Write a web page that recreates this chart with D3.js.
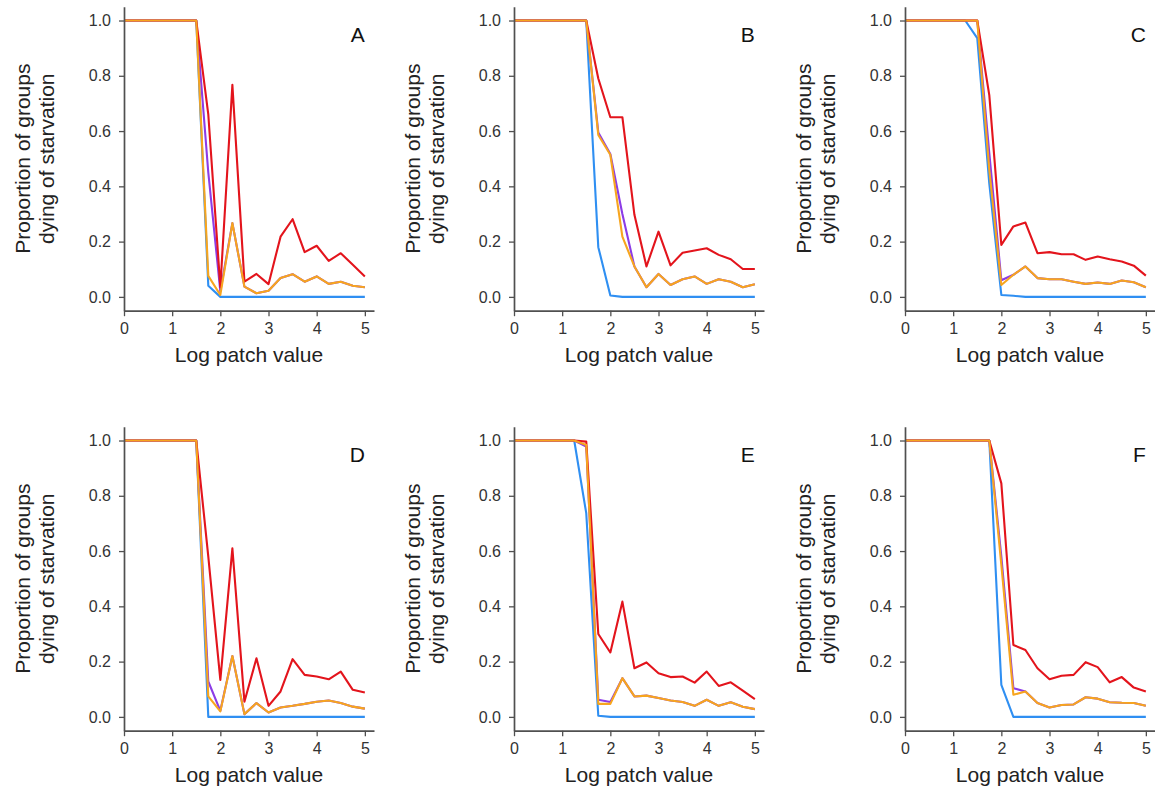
<!DOCTYPE html>
<html>
<head>
<meta charset="utf-8">
<script src="https://cdn.jsdelivr.net/npm/d3@7"></script>
<style>
  html, body { margin: 0; padding: 0; background: #ffffff; }
  svg { display: block; font-family: "Liberation Sans", Arial, sans-serif; }
</style>
</head>
<body>
<svg id="chart" width="1155" height="790"></svg>
<script>
// Log patch value at which each proportion was recorded
const xValues = [0, 0.25, 0.5, 0.75, 1, 1.25, 1.5, 1.75, 2, 2.25, 2.5, 2.75, 3, 3.25, 3.5, 3.75, 4, 4.25, 4.5, 4.75, 5];
const xTicks = [0, 1, 2, 3, 4, 5];
const yTicks = [0, 0.2, 0.4, 0.6, 0.8, 1.0];
const panelLabels = ["A", "B", "C", "D", "E", "F"];
const seriesColors = ["#2f8ff2", "#8c3ce6", "#e3141c", "#f7a51e"];

// Panel A
const aBlue   = [1, 1, 1, 1, 1, 1, 1, 0.04, 0, 0, 0, 0, 0, 0, 0, 0, 0, 0, 0, 0, 0];
const aPurple = [1, 1, 1, 1, 1, 1, 1, 0.45, 0.02, 0.267, 0.037, 0.013, 0.022, 0.068, 0.082, 0.055, 0.074, 0.047, 0.055, 0.04, 0.035];
const aRed    = [1, 1, 1, 1, 1, 1, 1, 0.66, 0.035, 0.767, 0.055, 0.083, 0.046, 0.218, 0.281, 0.162, 0.185, 0.13, 0.158, 0.116, 0.074];
const aOrange = [1, 1, 1, 1, 1, 1, 1, 0.076, 0.007, 0.267, 0.037, 0.013, 0.022, 0.068, 0.082, 0.055, 0.074, 0.047, 0.055, 0.04, 0.035];

// Panel B
const bBlue   = [1, 1, 1, 1, 1, 1, 1, 0.18, 0.005, 0, 0, 0, 0, 0, 0, 0, 0, 0, 0, 0, 0];
const bPurple = [1, 1, 1, 1, 1, 1, 1, 0.595, 0.517, 0.3, 0.11, 0.035, 0.083, 0.043, 0.064, 0.074, 0.047, 0.064, 0.055, 0.035, 0.046];
const bRed    = [1, 1, 1, 1, 1, 1, 1, 0.79, 0.65, 0.65, 0.297, 0.11, 0.236, 0.114, 0.16, 0.168, 0.176, 0.152, 0.136, 0.101, 0.101];
const bOrange = [1, 1, 1, 1, 1, 1, 1, 0.586, 0.514, 0.218, 0.11, 0.035, 0.083, 0.043, 0.064, 0.074, 0.047, 0.064, 0.055, 0.035, 0.046];

// Panel C
const cBlue   = [1, 1, 1, 1, 1, 1, 0.936, 0.41, 0.007, 0.004, 0, 0, 0, 0, 0, 0, 0, 0, 0, 0, 0];
const cPurple = [1, 1, 1, 1, 1, 1, 1, 0.52, 0.06, 0.08, 0.11, 0.068, 0.064, 0.064, 0.055, 0.047, 0.052, 0.047, 0.059, 0.053, 0.035];
const cRed    = [1, 1, 1, 1, 1, 1, 1, 0.73, 0.188, 0.255, 0.269, 0.158, 0.162, 0.154, 0.154, 0.134, 0.146, 0.136, 0.128, 0.113, 0.077];
const cOrange = [1, 1, 1, 1, 1, 1, 1, 0.46, 0.043, 0.08, 0.11, 0.068, 0.064, 0.064, 0.055, 0.047, 0.052, 0.047, 0.059, 0.053, 0.035];

// Panel D
const dBlue   = [1, 1, 1, 1, 1, 1, 1, 0, 0, 0, 0, 0, 0, 0, 0, 0, 0, 0, 0, 0, 0];
const dPurple = [1, 1, 1, 1, 1, 1, 1, 0.128, 0.022, 0.22, 0.01, 0.05, 0.016, 0.034, 0.04, 0.047, 0.055, 0.059, 0.05, 0.037, 0.03];
const dRed    = [1, 1, 1, 1, 1, 1, 1, 0.58, 0.134, 0.61, 0.055, 0.212, 0.04, 0.092, 0.209, 0.152, 0.146, 0.136, 0.164, 0.098, 0.088];
const dOrange = [1, 1, 1, 1, 1, 1, 1, 0.074, 0.02, 0.22, 0.01, 0.05, 0.016, 0.034, 0.04, 0.047, 0.055, 0.059, 0.05, 0.037, 0.03];

// Panel E
const eBlue   = [1, 1, 1, 1, 1, 1, 0.737, 0.004, 0, 0, 0, 0, 0, 0, 0, 0, 0, 0, 0, 0, 0];
const ePurple = [1, 1, 1, 1, 1, 1, 0.978, 0.062, 0.054, 0.14, 0.074, 0.077, 0.068, 0.059, 0.054, 0.04, 0.062, 0.04, 0.053, 0.037, 0.028];
const eRed    = [1, 1, 1, 1, 1, 1, 0.996, 0.3, 0.233, 0.417, 0.176, 0.197, 0.158, 0.144, 0.146, 0.124, 0.164, 0.112, 0.125, 0.095, 0.064];
const eOrange = [1, 1, 1, 1, 1, 1, 0.984, 0.047, 0.047, 0.14, 0.074, 0.077, 0.068, 0.059, 0.054, 0.04, 0.062, 0.04, 0.053, 0.037, 0.028];

// Panel F
const fBlue   = [1, 1, 1, 1, 1, 1, 1, 1, 0.116, 0, 0, 0, 0, 0, 0, 0, 0, 0, 0, 0, 0];
const fPurple = [1, 1, 1, 1, 1, 1, 1, 1, 0.58, 0.104, 0.092, 0.05, 0.034, 0.043, 0.045, 0.071, 0.066, 0.053, 0.051, 0.05, 0.04];
const fRed    = [1, 1, 1, 1, 1, 1, 1, 1, 0.845, 0.26, 0.242, 0.176, 0.136, 0.149, 0.152, 0.198, 0.18, 0.125, 0.144, 0.106, 0.092];
const fOrange = [1, 1, 1, 1, 1, 1, 1, 1, 0.55, 0.08, 0.092, 0.05, 0.034, 0.043, 0.045, 0.071, 0.066, 0.053, 0.051, 0.05, 0.04];

// Series are drawn in this order: blue, purple, red, then orange on top
const panelSeries = [
  [aBlue, aPurple, aRed, aOrange],
  [bBlue, bPurple, bRed, bOrange],
  [cBlue, cPurple, cRed, cOrange],
  [dBlue, dPurple, dRed, dOrange],
  [eBlue, ePurple, eRed, eOrange],
  [fBlue, fPurple, fRed, fOrange]
];

const svg = d3.select("#chart");
svg.append("rect").attr("width", 1155).attr("height", 790).attr("fill", "#ffffff");

const colLeft = [124, 514, 905];
const rowBottom = [310.7, 730.7];
const plotW = 250;
const plotH = 304;
const axisColor = "#505050";
const textColor = "#333333";

panelSeries.forEach((series, i) => {
  const col = i % 3, row = Math.floor(i / 3);
  const left = colLeft[col], bottom = rowBottom[row];

  const x = d3.scaleLinear().domain([0, 5.19]).range([left, left + plotW]);
  const y = d3.scaleLinear().domain([-0.05, 1.05]).range([bottom, bottom - plotH]);

  const g = svg.append("g");

  // Lines
  const line = d3.line().x((d, k) => x(xValues[k])).y(d => y(d));
  series.forEach((vals, s) => {
    g.append("path")
      .datum(vals)
      .attr("d", line)
      .attr("fill", "none")
      .attr("stroke", seriesColors[s])
      .attr("stroke-width", 2.1)
      .attr("stroke-linejoin", "round");
  });

  // Y axis
  const yAxis = g.append("g")
    .attr("transform", `translate(${left},0)`)
    .call(d3.axisLeft(y).tickValues(yTicks).tickFormat(d3.format(".1f"))
      .tickSize(5).tickSizeOuter(0).tickPadding(8));
  // X axis
  const xAxis = g.append("g")
    .attr("transform", `translate(0,${bottom})`)
    .call(d3.axisBottom(x).tickValues(xTicks).tickFormat(d3.format("d"))
      .tickSize(5.5).tickSizeOuter(0).tickPadding(6.5));

  [yAxis, xAxis].forEach(ax => {
    ax.select(".domain").attr("stroke", axisColor).attr("stroke-width", 1.7);
    ax.selectAll(".tick line").attr("stroke", axisColor).attr("stroke-width", 1.3);
    ax.selectAll(".tick text").attr("fill", textColor).attr("font-size", 16)
      .attr("font-family", "Liberation Sans, Arial, sans-serif");
  });

  // Axis titles
  g.append("text")
    .attr("x", left + plotW / 2)
    .attr("y", bottom + 51)
    .attr("text-anchor", "middle")
    .attr("font-size", 21)
    .attr("fill", "#222222")
    .text("Log patch value");

  const yMid = bottom - plotH / 2;
  const ylab = g.append("text")
    .attr("transform", `translate(${left - 94},${yMid}) rotate(-90)`)
    .attr("text-anchor", "middle")
    .attr("font-size", 21)
    .attr("fill", "#222222");
  ylab.append("tspan").attr("x", 0).attr("y", 0).text("Proportion of groups");
  ylab.append("tspan").attr("x", 0).attr("y", 24).text("dying of starvation");

  // Panel letter
  g.append("text")
    .attr("x", x(5))
    .attr("y", bottom - 268.5)
    .attr("text-anchor", "end")
    .attr("font-size", 21)
    .attr("fill", "#111111")
    .text(panelLabels[i]);
});
</script>
</body>
</html>
